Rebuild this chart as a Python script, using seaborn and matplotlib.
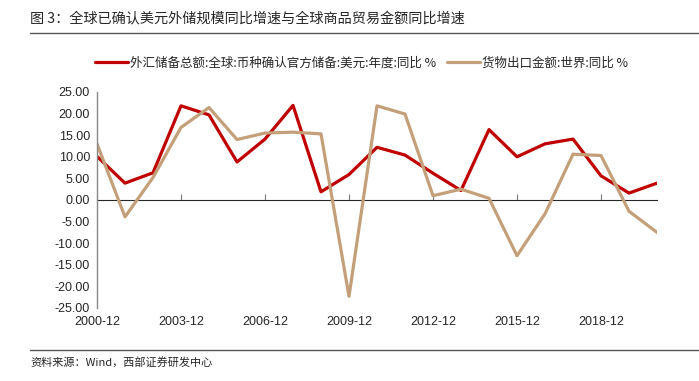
import pandas as pd
import matplotlib
matplotlib.use("Agg")
import matplotlib.pyplot as plt
import seaborn as sns

# 数据
years = list(range(2000, 2021))
reserves_yoy = [10.1, 3.9, 6.3, 21.8, 19.7, 8.8, 14.1, 21.9, 1.9, 5.9, 12.2,
                10.4, 6.2, 2.2, 16.3, 10.0, 13.0, 14.1, 5.6, 1.6, 3.9]
exports_yoy = [13.0, -3.9, 5.2, 16.8, 21.4, 14.0, 15.5, 15.7, 15.3, -22.3, 21.8,
               19.9, 1.0, 2.5, 0.4, -12.9, -3.2, 10.6, 10.3, -2.6, -7.5]
tick_years = list(range(2000, 2019, 3))
tick_labels = [f"{y}-12" for y in tick_years]

name_a = "外汇储备总额:全球:币种确认官方储备:美元:年度:同比 %"
name_b = "货物出口金额:世界:同比 %"

df = pd.DataFrame({"year": years, name_a: reserves_yoy, name_b: exports_yoy})
long_df = df.melt(id_vars="year", var_name="series", value_name="value")

sns.set_style("white")
plt.rcParams["font.family"] = ["Liberation Sans", "Noto Sans CJK SC", "DejaVu Sans"]

fig = plt.figure(figsize=(6.99, 3.81), dpi=100)
ax = fig.add_axes([97 / 699, 1 - 308 / 381, 560 / 699, 216 / 381])

sns.lineplot(data=long_df, x="year", y="value", hue="series", ax=ax,
             palette=["#C00000", "#C4A07A"], linewidth=2.3)

ax.set_xlim(2000, 2020)
ax.set_ylim(-25, 25)
ax.set_yticks(range(-25, 26, 5))
ax.set_yticklabels([f"{v:.2f}" for v in range(-25, 26, 5)])
ax.set_xticks(tick_years)
ax.set_xticklabels(tick_labels)
ax.set_xlabel("")
ax.set_ylabel("")
ax.tick_params(axis="x", length=0, pad=6, labelsize=9)
ax.tick_params(axis="y", length=3, direction="out", color="#777777", labelsize=9, pad=2)

for side in ["top", "right", "bottom"]:
    ax.spines[side].set_visible(False)
ax.spines["left"].set_color("#888888")
ax.spines["left"].set_linewidth(1)

# 零轴带刻度
zero_ax = ax.secondary_xaxis(0.5)
zero_ax.set_xticks(tick_years)
zero_ax.tick_params(axis="x", labelbottom=False, labeltop=False, length=4,
                    direction="out", color="#777777")
zero_ax.spines["bottom"].set_color("#777777")
zero_ax.spines["bottom"].set_linewidth(1)

handles, labels = ax.get_legend_handles_labels()
ax.legend(handles, labels, loc="center", bbox_to_anchor=(0.517, 1 - 63 / 381),
          bbox_transform=fig.transFigure, ncol=2, frameon=False,
          handlelength=2.64, handletextpad=0.16, columnspacing=0.88,
          prop={"family": ["Noto Sans CJK SC", "DejaVu Sans"], "size": 9})

fig.text(30 / 699, 1 - 18 / 381, "图 3：全球已确认美元外储规模同比增速与全球商品贸易金额同比增速",
         fontsize=10.2, va="center", ha="left", family=["Noto Sans CJK SC", "DejaVu Sans"])
fig.add_artist(plt.Line2D([30 / 699, 1], [1 - 33 / 381] * 2, color="#555555", linewidth=1))
fig.add_artist(plt.Line2D([30 / 699, 1], [1 - 350 / 381] * 2, color="#555555", linewidth=1))
fig.text(30 / 699, 1 - 362 / 381, "资料来源：Wind，西部证券研发中心",
         fontsize=8, va="center", ha="left", family=["Noto Sans CJK SC", "DejaVu Sans"])

fig.savefig("out.png", dpi=100)
